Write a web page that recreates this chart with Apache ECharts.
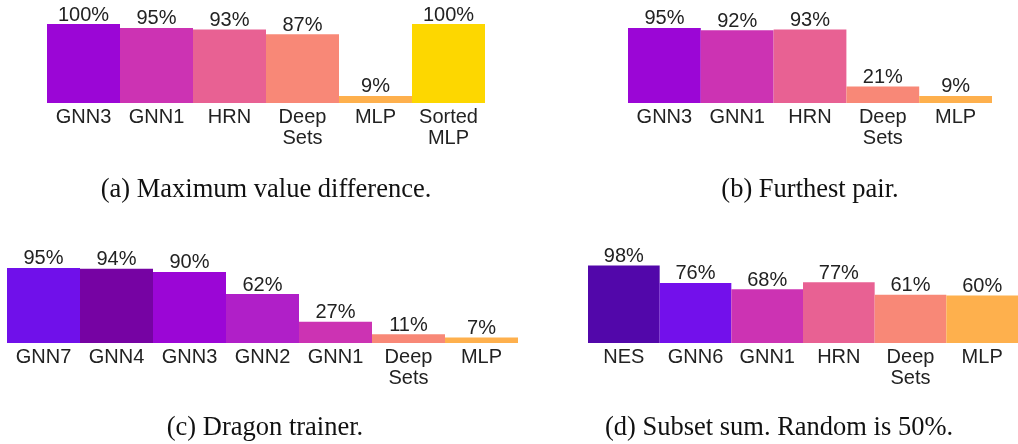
<!DOCTYPE html>
<html>
<head>
<meta charset="utf-8">
<script src="https://cdn.jsdelivr.net/npm/echarts@6/dist/echarts.min.js"></script>
<style>
  html, body { margin: 0; padding: 0; background: #fff; }
  #main { width: 1018px; height: 444px; }
</style>
</head>
<body>
<div id="main"></div>
<script>
// (a) Maximum value difference
const catsA = ['GNN3', 'GNN1', 'HRN', 'Deep\nSets', 'MLP', 'Sorted\nMLP'];
const valsA = [100, 95, 93, 87, 9, 100];
// (b) Furthest pair
const catsB = ['GNN3', 'GNN1', 'HRN', 'Deep\nSets', 'MLP'];
const valsB = [95, 92, 93, 21, 9];
// (c) Dragon trainer
const catsC = ['GNN7', 'GNN4', 'GNN3', 'GNN2', 'GNN1', 'Deep\nSets', 'MLP'];
const valsC = [95, 94, 90, 62, 27, 11, 7];
// (d) Subset sum
const catsD = ['NES', 'GNN6', 'GNN1', 'HRN', 'Deep\nSets', 'MLP'];
const valsD = [98, 76, 68, 77, 61, 60];

const captions = [
  '(a) Maximum value difference.',
  '(b) Furthest pair.',
  '(c) Dragon trainer.',
  '(d) Subset sum. Random is 50%.'
];

// plasma-like colour per model
const colorOf = {
  'NES': '#5207aa',
  'GNN7': '#7010ea',
  'GNN6': '#7310eb',
  'GNN4': '#7603a3',
  'GNN3': '#9b06d6',
  'GNN2': '#b01fc8',
  'GNN1': '#cc33b3',
  'HRN': '#e86193',
  'Deep\nSets': '#f88877',
  'MLP': '#feb04d',
  'Sorted\nMLP': '#fdd700'
};

const font = '"Liberation Sans", Arial, sans-serif';
const grids = [
  {left: 47, top: 24, width: 438, height: 79},
  {left: 628, top: 24, width: 364, height: 79},
  {left: 7, top: 264, width: 511, height: 79},
  {left: 588, top: 264, width: 438, height: 79}
];
const panels = [[catsA, valsA], [catsB, valsB], [catsC, valsC], [catsD, valsD]];

let chart = echarts.init(document.getElementById('main'), null, {renderer: 'canvas'});
let option = {
  animation: false,
  backgroundColor: '#fff',
  title: [
    {left: 266, top: 177},
    {left: 810, top: 177},
    {left: 265, top: 415},
    {left: 779, top: 415}
  ].map((t, i) => ({
    text: captions[i],
    left: t.left,
    top: t.top,
    textAlign: 'center',
    padding: 0,
    textStyle: {fontFamily: '"Liberation Serif", "Times New Roman", serif', fontSize: 26.5, fontWeight: 'normal', color: '#111'}
  })),
  grid: grids,
  xAxis: panels.map((p, i) => ({
    type: 'category',
    gridIndex: i,
    data: p[0],
    axisLine: {show: false},
    axisTick: {show: false},
    axisLabel: {fontFamily: font, fontSize: 20, lineHeight: 21, color: '#222', margin: 4, interval: 0}
  })),
  yAxis: panels.map((p, i) => ({
    type: 'value',
    gridIndex: i,
    min: 0,
    max: 100,
    show: false,
    splitLine: {show: false}
  })),
  series: panels.map((p, i) => ({
    type: 'bar',
    xAxisIndex: i,
    yAxisIndex: i,
    barCategoryGap: '0%',
    data: p[1].map((v, j) => ({value: v, itemStyle: {color: colorOf[p[0][j]]}})),
    label: {
      show: true,
      position: 'top',
      distance: -1,
      formatter: '{c}%',
      fontFamily: font,
      fontSize: 20,
      color: '#222'
    }
  }))
};
chart.setOption(option);
</script>
</body>
</html>
